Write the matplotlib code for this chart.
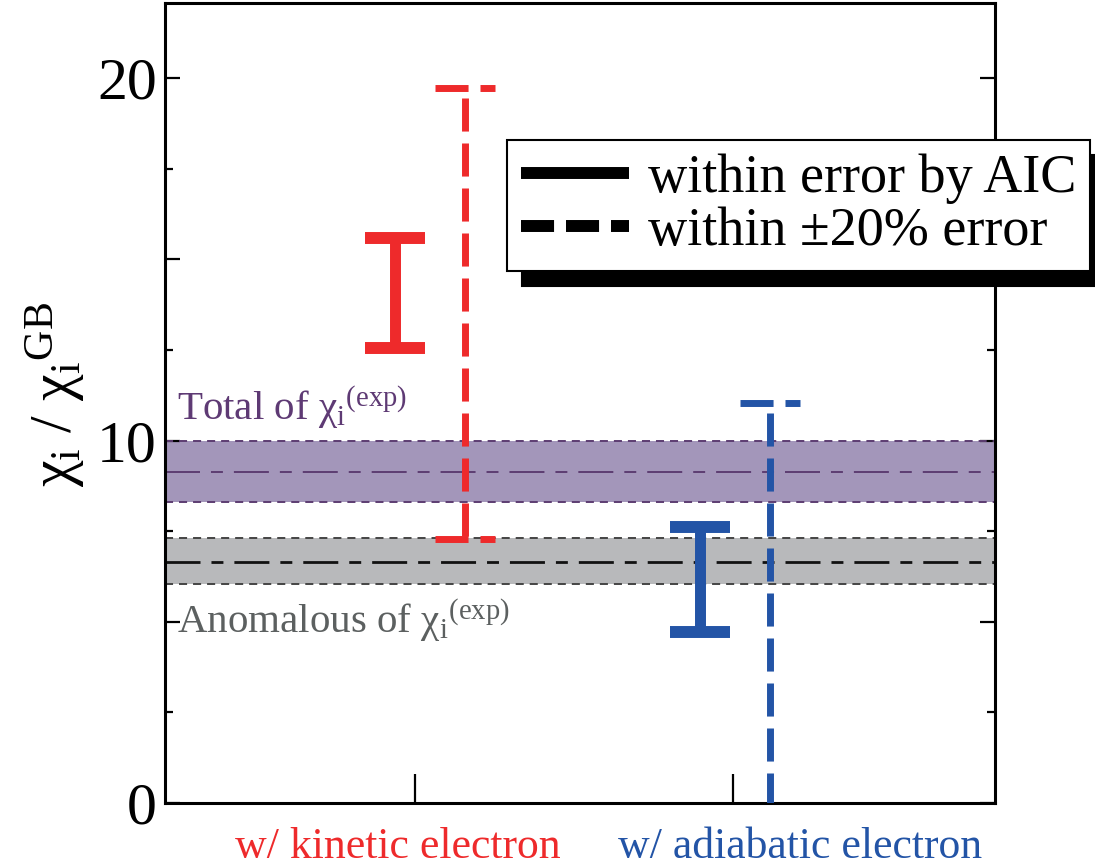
import matplotlib
matplotlib.use('Agg')
import matplotlib.pyplot as plt
from matplotlib.lines import Line2D
from matplotlib.ticker import FixedLocator, MultipleLocator

plt.rcParams['font.family'] = ['Liberation Serif', 'DejaVu Serif']
plt.rcParams['mathtext.default'] = 'regular'
plt.rcParams['lines.scale_dashes'] = False

# data
cases = ['w/ kinetic electron', 'w/ adiabatic electron']
aic_low = [12.55, 4.72]
aic_high = [15.6, 7.62]
pct_low = [7.28, -1.0]
pct_high = [19.72, 11.03]
total_lo, total_mid, total_hi = 8.30, 9.13, 10.0
anom_lo, anom_mid, anom_hi = 6.04, 6.65, 7.31

# horizontal placement (axes fraction)
aic_x = [0.277, 0.645]
pct_x = [0.361, 0.729]
case_ticks = [0.301, 0.684]
label_x = [0.280, 0.765]
cap = 0.036

colors = ['#ee2a2b', '#2354a6']
dash = (0, (23.8, 8.6))
dash_v = (25.2, (23.8, 8.6))
dashdot = (0, (25.2, 7.9, 8.6, 7.9))

fig = plt.figure(figsize=(10.95, 8.68), dpi=100)
ax = fig.add_axes([0.1507, 0.0749, 0.758, 0.9216])
ax.set_xlim(0, 1)
ax.set_ylim(0, 22.07)

# experimental bands
ax.axhspan(total_lo, total_hi, color='#a396ba', lw=0, zorder=1)
for y in (total_lo, total_hi):
    ax.axhline(y, color='#5d3d72', lw=1.4, linestyle=(0, (5.8, 4.3)), zorder=2)
ax.axhline(total_mid, color='#5d3d72', lw=1.4, linestyle=dashdot, zorder=2)

ax.axhspan(anom_lo, anom_hi, color='#b8b9bb', lw=0, zorder=1)
for y in (anom_lo, anom_hi):
    ax.axhline(y, color='#444444', lw=1.4, linestyle=(0, (5.8, 4.3)), zorder=2)
ax.axhline(anom_mid, color='#111111', lw=2.0, linestyle=dashdot, zorder=2)

ax.text(0.015, 10.57, r'Total of $\chi_i{}^{(exp)}$', color='#5e3a74', fontsize=29.5,
        va='baseline', ha='left')
ax.text(0.015, 4.69, r'Anomalous of $\chi_i{}^{(exp)}$', color='#5c6060', fontsize=29.5,
        va='baseline', ha='left')

# error bars
for i in range(len(cases)):
    c = colors[i]
    ax.plot([aic_x[i], aic_x[i]], [aic_low[i], aic_high[i]], color=c, lw=7.9,
            solid_capstyle='butt', zorder=4)
    for y in (aic_low[i], aic_high[i]):
        ax.plot([aic_x[i] - cap, aic_x[i] + cap], [y, y], color=c, lw=8.6,
                solid_capstyle='butt', zorder=4)
    ax.plot([pct_x[i], pct_x[i]], [pct_high[i], pct_low[i]], color=c, lw=5,
            linestyle=dash_v, dash_capstyle='butt', zorder=4)
    for y in (pct_low[i], pct_high[i]):
        ax.plot([pct_x[i] - cap, pct_x[i] + cap], [y, y], color=c, lw=5,
                linestyle=dash, dash_capstyle='butt', zorder=4)
    ax.text(label_x[i], -0.069, cases[i], color=c, fontsize=31.5, ha='center',
            va='baseline', transform=ax.transAxes)

# axes styling
for s in ax.spines.values():
    s.set_linewidth(2.2)
ax.yaxis.set_major_locator(FixedLocator([0, 5, 10, 15, 20]))
ax.set_yticklabels(['0', '', '10', '', '20'])
ax.yaxis.set_minor_locator(MultipleLocator(2.5))
ax.tick_params(axis='y', which='both', direction='in', left=True, right=True,
               width=1.6, labelsize=43, pad=6)
ax.tick_params(axis='y', which='major', length=11)
ax.tick_params(axis='y', which='minor', length=6)
ax.set_xticks(case_ticks)
ax.set_xticklabels([])
ax.tick_params(axis='x', direction='in', length=21, width=1.6, top=False)

ax.set_ylabel(r'$\chi_i$ / $\chi_i{}^{GB}$', fontsize=43)
ax.yaxis.set_label_coords(-0.093, 0.51)

handles = [Line2D([], [], color='k', lw=8.6, solid_capstyle='butt'),
           Line2D([], [], color='k', lw=8.6, linestyle=dash, dash_capstyle='butt')]
leg = ax.legend(handles, ['within error by AIC', 'within \u00b120% error'],
                loc='upper left', bbox_to_anchor=(0.412, 0.829), borderaxespad=0,
                fontsize=39, handlelength=2.0, handletextpad=0.36, labelspacing=0.05,
                borderpad=0.25, fancybox=False, framealpha=1, edgecolor='k',
                shadow={'ox': 11, 'oy': -11, 'facecolor': 'k', 'edgecolor': 'k', 'alpha': 1})
leg.get_frame().set_linewidth(1.5)
leg.set_zorder(10)

fig.savefig('out.png', dpi=100)
